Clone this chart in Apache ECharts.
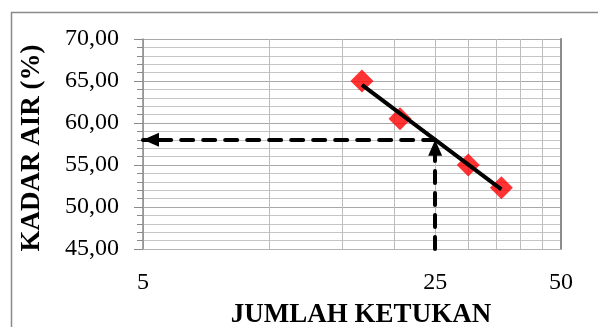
<!DOCTYPE html>
<html>
<head>
<meta charset="utf-8">
<script src="https://cdn.jsdelivr.net/npm/echarts@6/dist/echarts.min.js"></script>
<style>
  html, body { margin: 0; padding: 0; background: #ffffff; }
  #chart { width: 598px; height: 327px; }
</style>
</head>
<body>
<div id="chart"></div>
<script>
// Liquid-limit test: moisture content against number of blows
const blows = [16.7, 20.6, 30, 36];
const moisture = [65.0, 60.5, 55.0, 52.3];
const xGridValues = [5, 10, 15, 20, 25, 30, 35, 40, 45, 50];
const xLabelValues = [5, 25, 50];
const targetBlows = 25;
const xTitle = 'JUMLAH KETUKAN';
const yTitle = 'KADAR AIR (%)';

// Logarithmic least-squares fit: moisture = a + b * ln(blows)
function logFit(xs, ys) {
  const lx = xs.map(Math.log);
  const n = xs.length;
  const mx = lx.reduce((s, v) => s + v, 0) / n;
  const my = ys.reduce((s, v) => s + v, 0) / n;
  let sxy = 0, sxx = 0;
  for (let i = 0; i < n; i++) {
    sxy += (lx[i] - mx) * (ys[i] - my);
    sxx += (lx[i] - mx) * (lx[i] - mx);
  }
  const b = sxy / sxx;
  const a = my - b * mx;
  return x => a + b * Math.log(x);
}
const fit = logFit(blows, moisture);
const xFirst = blows[0];
const xLast = blows[blows.length - 1];
const trendData = [[xFirst, fit(xFirst)], [xLast, fit(xLast)]];
const readValue = fit(targetBlows);

// Arrow head placed at the end of each guide line
const arrowHead = { symbol: 'triangle', symbolSize: [14, 16], symbolOffset: [0, 8] };

const serif = 'Liberation Serif, Times New Roman, serif';
const chart = echarts.init(document.getElementById('chart'), null, { renderer: 'canvas' });

chart.setOption({
  backgroundColor: '#ffffff',
  animation: false,
  graphic: [{
    type: 'rect',
    left: 9, top: 10,
    shape: { width: 700, height: 400 },
    style: { fill: 'none', stroke: '#8a8a8a', lineWidth: 1.5 },
    silent: true, z: -1
  }],
  grid: { left: 143, right: 37, top: 39, bottom: 78, containLabel: false, outerBoundsMode: 'none' },
  xAxis: {
    type: 'log',
    logBase: 10,
    min: 5,
    max: 50,
    name: xTitle,
    nameLocation: 'middle',
    nameGap: 53,
    nameTextStyle: { fontFamily: serif, fontSize: 27, fontWeight: 'bold', color: '#000', padding: [0, 0, 0, 18] },
    axisLine: { show: true, lineStyle: { color: '#b4b4b4', width: 1 } },
    axisTick: { show: false, customValues: xGridValues },
    axisLabel: {
      customValues: xLabelValues,
      fontFamily: serif, fontSize: 24, color: '#000', margin: 22,
      formatter: v => String(v)
    },
    splitLine: { show: true, lineStyle: { color: '#bdbdbd', width: 1 } }
  },
  yAxis: [{
    type: 'value',
    min: 45,
    max: 70,
    interval: 5,
    name: yTitle,
    nameLocation: 'middle',
    nameGap: 97,
    nameTextStyle: { fontFamily: serif, fontSize: 27, fontWeight: 'bold', color: '#000', padding: [0, 8, 0, 0] },
    axisLine: { show: true, lineStyle: { color: '#8a8a8a', width: 1.5 } },
    axisTick: { show: true, inside: false, length: 9, lineStyle: { color: '#8a8a8a' } },
    minorTick: { show: true, splitNumber: 5, length: 6, lineStyle: { color: '#8a8a8a' } },
    axisLabel: {
      fontFamily: serif, fontSize: 24, color: '#000', margin: 24,
      formatter: v => v.toFixed(2).replace('.', ',')
    },
    splitLine: { show: true, lineStyle: { color: '#a8a8a8', width: 1 } },
    minorSplitLine: { show: true, lineStyle: { color: '#c4c4c4', width: 1 } }
  }, {
    type: 'value',
    position: 'right',
    min: 45,
    max: 70,
    axisLine: { show: true, lineStyle: { color: '#8c8c8c', width: 2 } },
    axisTick: { show: false },
    axisLabel: { show: false },
    splitLine: { show: false }
  }],
  series: [{
    type: 'scatter',
    data: blows.map((b, i) => [b, moisture[i]]),
    symbol: 'diamond',
    symbolSize: [23, 23],
    itemStyle: { color: '#ff0000' },
    z: 3
  }, {
    type: 'line',
    data: trendData,
    showSymbol: false,
    symbol: 'none',
    lineStyle: { color: '#000000', width: 4 },
    z: 4,
    markLine: {
      silent: true,
      symbol: 'none',
      label: { show: false },
      lineStyle: { color: '#000000', width: 4, type: [12, 10], cap: 'round' },
      data: [
        [{ coord: [targetBlows, readValue] }, Object.assign({ coord: [5, readValue] }, arrowHead)],
        [{ coord: [targetBlows, 45] }, Object.assign({ coord: [targetBlows, readValue] }, arrowHead)]
      ]
    }
  }]
});
</script>
</body>
</html>
